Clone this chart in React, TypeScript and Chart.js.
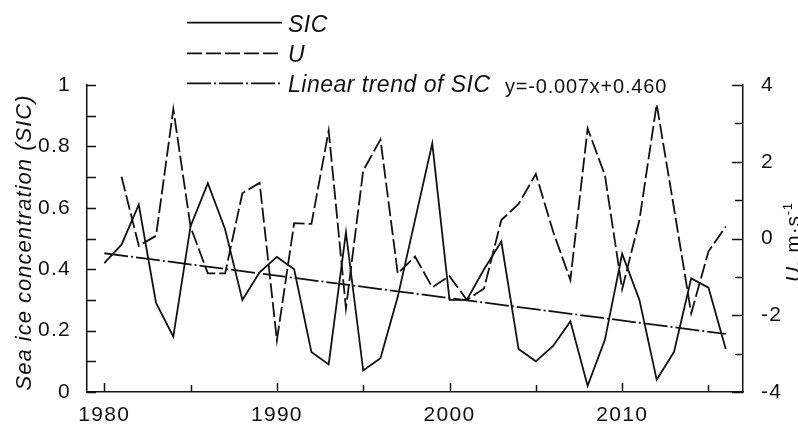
import React, { useEffect, useRef } from 'react';
import { Chart, registerables } from 'chart.js';

Chart.register(...registerables);

// ---- data ----
const YEARS = [
  1980, 1981, 1982, 1983, 1984, 1985, 1986, 1987, 1988, 1989,
  1990, 1991, 1992, 1993, 1994, 1995, 1996, 1997, 1998, 1999,
  2000, 2001, 2002, 2003, 2004, 2005, 2006, 2007, 2008, 2009,
  2010, 2011, 2012, 2013, 2014, 2015, 2016,
];
const SIC = [
  0.42, 0.48, 0.61, 0.29, 0.18, 0.54, 0.68, 0.53, 0.30, 0.39,
  0.44, 0.40, 0.13, 0.09, 0.52, 0.07, 0.11, 0.31, 0.56, 0.81,
  0.30, 0.30, 0.40, 0.49, 0.14, 0.10, 0.15, 0.23, 0.02, 0.17,
  0.45, 0.30, 0.04, 0.13, 0.37, 0.34, 0.14,
];
const U_WIND = [
  null, 1.61, -0.19, 0.07, 3.37, 0.3, -0.91, -0.91, 1.18, 1.45,
  -2.65, 0.40, 0.38, 2.81, -1.82, 1.77, 2.58, -0.91, -0.47, -1.27,
  -0.98, -1.6, -1.3, 0.48, 0.9, 1.68, 0.18, -1.08, 2.87, 1.65,
  -1.32, 0.48, 3.5, 0.8, -1.95, -0.34, 0.31,
];
const TREND_YEARS = [1980, 2016];
const TREND_SIC = [0.452, 0.189];

const LEGEND_LABELS = ['SIC', 'U', 'Linear trend of SIC'];
const TREND_EQUATION = 'y=-0.007x+0.460';
const LEFT_TITLE = 'Sea ice concentration (SIC)';
const RIGHT_TITLE_PARTS = ['U', ', m·s', '-1'];

// ---- styles ----
const FONT = "'Liberation Sans', Arial, Helvetica, sans-serif";
const INK = '#111';
const DASH_U = [15, 4];
const DASH_TREND = [24, 3, 2, 3];
const LINE_W = 1.8;

const decorPlugin = {
  id: 'decor',
  beforeUpdate(chart: any) {
    chart.ctx.letterSpacing = '1.3px';
  },
  beforeDraw(chart: any) {
    chart.ctx.letterSpacing = '1.3px';
  },
  afterDraw(chart: any) {
    const ctx = chart.ctx;
    const { x, y, y1 } = chart.scales;
    const area = chart.chartArea;
    ctx.save();
    ctx.strokeStyle = INK;
    ctx.fillStyle = INK;
    ctx.lineWidth = 1.5;
    ctx.setLineDash([]);
    // inward tick marks
    ctx.beginPath();
    x.ticks.forEach((t: any) => {
      const px = Math.round(x.getPixelForValue(t.value)) + 0.5;
      const len = t.value % 10 === 0 ? 9 : 7;
      ctx.moveTo(px, area.bottom);
      ctx.lineTo(px, area.bottom - len);
    });
    y.ticks.forEach((t: any) => {
      const py = Math.round(y.getPixelForValue(t.value)) + 0.5;
      ctx.moveTo(area.left, py);
      ctx.lineTo(area.left + 9, py);
    });
    y1.ticks.forEach((t: any) => {
      const py = Math.round(y1.getPixelForValue(t.value)) + 0.5;
      const major = Math.round(t.value) % 2 === 0;
      ctx.moveTo(area.right, py);
      ctx.lineTo(area.right - (major ? 11 : 8), py);
    });
    ctx.stroke();

    // legend
    const lx0 = 187;
    const lx1 = 282;
    const rows = [22.7, 53.3, 83.3];
    const dashes = [[], DASH_U, DASH_TREND];
    ctx.lineWidth = LINE_W;
    rows.forEach((ry, i) => {
      ctx.setLineDash(dashes[i]);
      ctx.beginPath();
      ctx.moveTo(lx0, ry);
      ctx.lineTo(lx1, ry);
      ctx.stroke();
    });
    ctx.setLineDash([]);
    ctx.font = `italic 23px ${FONT}`;
    ctx.letterSpacing = '0.5px';
    ctx.textAlign = 'left';
    ctx.textBaseline = 'alphabetic';
    const baselines = [31.5, 61.5, 91.8];
    LEGEND_LABELS.forEach((lab, i) => ctx.fillText(lab, 288, baselines[i]));
    ctx.font = `20px ${FONT}`;
    ctx.letterSpacing = '0.8px';
    ctx.fillText(TREND_EQUATION, 505, 93);

    // left axis title
    ctx.save();
    ctx.translate(25, 242.5);
    ctx.rotate(-Math.PI / 2);
    ctx.font = `italic 22px ${FONT}`;
    ctx.letterSpacing = '1px';
    ctx.textAlign = 'center';
    ctx.textBaseline = 'middle';
    ctx.fillText(LEFT_TITLE, 0, 0);
    ctx.restore();

    // right axis title
    ctx.save();
    ctx.translate(800, 242);
    ctx.rotate(-Math.PI / 2);
    ctx.textAlign = 'left';
    ctx.textBaseline = 'alphabetic';
    ctx.letterSpacing = '0.8px';
    const fA = `italic 21px ${FONT}`;
    const fB = `21px ${FONT}`;
    const fC = `13px ${FONT}`;
    ctx.font = fA;
    const wA = ctx.measureText(RIGHT_TITLE_PARTS[0]).width;
    ctx.font = fB;
    const wB = ctx.measureText(RIGHT_TITLE_PARTS[1]).width;
    ctx.font = fC;
    const wC = ctx.measureText(RIGHT_TITLE_PARTS[2]).width;
    let cx = -(wA + wB + wC) / 2;
    ctx.font = fA;
    ctx.fillText(RIGHT_TITLE_PARTS[0], cx, 0);
    cx += wA;
    ctx.font = fB;
    ctx.fillText(RIGHT_TITLE_PARTS[1], cx, 0);
    cx += wB;
    ctx.font = fC;
    ctx.fillText(RIGHT_TITLE_PARTS[2], cx, -8);
    ctx.restore();

    ctx.restore();
  },
};

export default function App() {
  const ref = useRef<HTMLCanvasElement | null>(null);

  useEffect(() => {
    if (!ref.current) return;
    Chart.defaults.font.family = FONT;
    Chart.defaults.color = INK;
    const sicPts = YEARS.map((yr, i) => ({ x: yr, y: SIC[i] }));
    const uPts = YEARS.map((yr, i) => ({ x: yr, y: U_WIND[i] }));
    const trendPts = TREND_YEARS.map((yr, i) => ({ x: yr, y: TREND_SIC[i] }));

    const chart = new Chart(ref.current, {
      type: 'line',
      data: {
        datasets: [
          {
            label: 'SIC',
            data: sicPts,
            yAxisID: 'y',
            borderColor: INK,
            borderWidth: LINE_W,
            pointRadius: 0,
            tension: 0,
          },
          {
            label: 'U',
            data: uPts as any,
            yAxisID: 'y1',
            borderColor: INK,
            borderWidth: LINE_W,
            borderDash: DASH_U,
            pointRadius: 0,
            tension: 0,
          },
          {
            label: 'Linear trend of SIC',
            data: trendPts,
            yAxisID: 'y',
            borderColor: INK,
            borderWidth: LINE_W,
            borderDash: DASH_TREND,
            pointRadius: 0,
            tension: 0,
          },
        ],
      },
      options: {
        responsive: false,
        animation: false,
        layout: { padding: { top: 85, left: 0, right: 0, bottom: 0 } },
        plugins: {
          legend: { display: false },
          tooltip: { enabled: false },
          title: { display: false },
        },
        scales: {
          x: {
            type: 'linear',
            position: 'bottom',
            min: 1979,
            max: 2017,
            grid: { display: false },
            border: { display: true, color: INK, width: 1.5 },
            ticks: {
              stepSize: 5,
              includeBounds: false,
              autoSkip: false,
              maxRotation: 0,
              padding: 3,
              color: INK,
              font: { size: 21 },
              callback: (v: any) => (Number(v) % 10 === 0 ? String(v) : ''),
            },
            afterFit: (s: any) => {
              s.height = 34;
            },
          },
          y: {
            type: 'linear',
            position: 'left',
            min: 0,
            max: 1,
            grid: { display: false },
            border: { display: true, color: INK, width: 1.5 },
            ticks: {
              stepSize: 0.1,
              autoSkip: false,
              padding: 8,
              color: INK,
              font: { size: 21 },
              callback: (v: any) => {
                const k = Math.round(Number(v) * 10);
                return k % 2 === 0 ? String(k / 10) : '';
              },
            },
            afterFit: (s: any) => {
              s.width = 87;
            },
          },
          y1: {
            type: 'linear',
            position: 'right',
            min: -4,
            max: 4,
            grid: { display: false },
            border: { display: true, color: INK, width: 1.5 },
            ticks: {
              stepSize: 1,
              autoSkip: false,
              padding: 10,
              color: INK,
              font: { size: 21 },
              callback: (v: any) => {
                const k = Math.round(Number(v));
                return k % 2 === 0 ? String(k) : '';
              },
            },
            afterFit: (s: any) => {
              s.width = 55;
            },
          },
        },
      },
      plugins: [decorPlugin],
    });
    return () => chart.destroy();
  }, []);

  return (
    <div style={{ position: 'absolute', left: 0, top: 0, width: 798, height: 426, background: '#fff' }}>
      <canvas ref={ref} width={798} height={426} style={{ display: 'block' }} />
    </div>
  );
}
